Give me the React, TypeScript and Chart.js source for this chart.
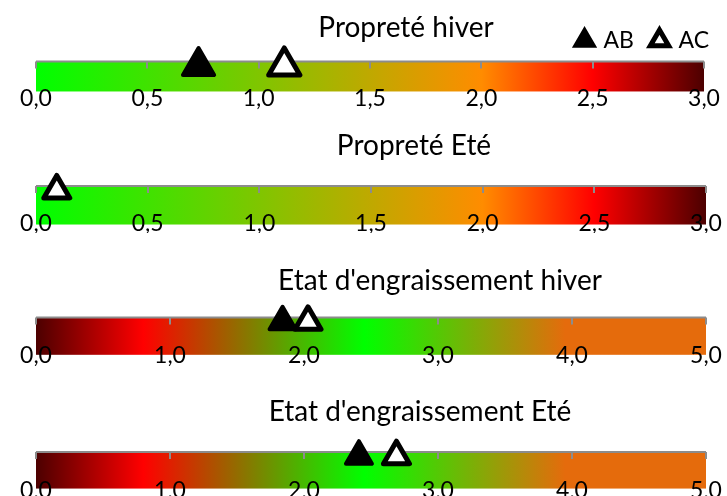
import React, { useEffect, useRef } from 'react';
import { Chart, registerables } from 'chart.js';

Chart.register(...registerables);

// ---------- data ----------
const SERIES_NAMES = ['AB', 'AC'];
const PANEL_TITLES = ['Propreté hiver', 'Propreté Eté', "Etat d'engraissement hiver", "Etat d'engraissement Eté"];
const AXIS_MAX = [3, 3, 5, 5];
const AXIS_STEP = [0.5, 0.5, 1, 1];
const TICKS_PROPRETE = ['0,0', '0,5', '1,0', '1,5', '2,0', '2,5', '3,0'];
const TICKS_ENGRAISSEMENT = ['0,0', '1,0', '2,0', '3,0', '4,0', '5,0'];
const AB_VALUES: (number | null)[] = [0.73, null, 1.84, 2.41];
const AC_VALUES: (number | null)[] = [1.115, 0.093, 2.03, 2.69];
const SCALE_PROPRETE_STOPS = [0, 2, 2.5, 3];
const SCALE_PROPRETE_COLORS = ['#00ff00', '#ff8c00', '#ff0000', '#4c0000'];
const SCALE_ENGR_STOPS = [0, 0.8, 2.45, 3.95, 5];
const SCALE_ENGR_COLORS = ['#4c0000', '#ff0000', '#00ff00', '#e56b0c', '#e56b0c'];
// colour band spans y = 0 .. 1
const BAND_BOTTOM = 0;
const BAND_TOP = 1;

// ---------- layout (styles / positions only) ----------
const FONT = 'Lato, "Noto Sans", sans-serif';
const PANELS = [
  { top: 0, height: 112, padTop: 11, yMin: 0.236, titleX: 406, titleY: 37, radius: 18, markerY: 0.85, legend: true },
  { top: 120, height: 113, padTop: 66, yMin: 0.39, titleX: 414, titleY: 35, radius: 15, markerY: 0.885, legend: false },
  { top: 250, height: 116, padTop: 67.5, yMin: 0.35, titleX: 440, titleY: 40, radius: 15, markerY: 0.885, legend: false },
  { top: 375, height: 126, padTop: 77, yMin: 0.33, titleX: 420, titleY: 46, radius: 15, markerY: 0.885, legend: false },
];

const decorPlugin = {
  id: 'panelDecor',
  beforeDraw(chart: any, _args: any, opts: any) {
    const { ctx, chartArea } = chart;
    const xs = chart.scales.x;
    const ys = chart.scales.y;
    const w = chartArea.right - chartArea.left;
    const g = ctx.createLinearGradient(chartArea.left, 0, chartArea.right, 0);
    opts.stops.forEach((v: number, i: number) => {
      const f = Math.min(1, Math.max(0, (xs.getPixelForValue(v) - chartArea.left) / w));
      g.addColorStop(f, opts.colors[i]);
    });
    const yTop = ys.getPixelForValue(BAND_TOP);
    const yBot = ys.getPixelForValue(BAND_BOTTOM);
    ctx.save();
    ctx.fillStyle = g;
    ctx.fillRect(chartArea.left, yTop, w, yBot - yTop);
    ctx.fillStyle = '#000';
    ctx.font = `28px ${FONT}`;
    ctx.textAlign = 'center';
    ctx.textBaseline = 'alphabetic';
    ctx.fillText(opts.title, opts.titleX, opts.titleY);
    ctx.restore();
  },
  beforeDatasetsDraw(chart: any) {
    const { ctx, chartArea } = chart;
    const xs = chart.scales.x;
    const ys = chart.scales.y;
    const yTop = ys.getPixelForValue(BAND_TOP);
    ctx.save();
    ctx.strokeStyle = '#8c8c8c';
    ctx.lineWidth = 2;
    ctx.beginPath();
    ctx.moveTo(chartArea.left, yTop);
    ctx.lineTo(chartArea.right, yTop);
    xs.ticks.forEach((t: any) => {
      const px = Math.round(xs.getPixelForValue(t.value));
      ctx.moveTo(px, yTop);
      ctx.lineTo(px, yTop + 7);
    });
    ctx.stroke();
    ctx.restore();
    ctx.lineJoin = 'round';
  },
};

function Panel({ index }: { index: number }) {
  const ref = useRef<HTMLCanvasElement>(null);
  const p = PANELS[index];
  useEffect(() => {
    if (!ref.current) return;
    const isProp = index < 2;
    const tickLabels = isProp ? TICKS_PROPRETE : TICKS_ENGRAISSEMENT;
    const chart = new Chart(ref.current, {
      type: 'scatter',
      data: {
        datasets: [
          {
            label: SERIES_NAMES[0],
            data: AB_VALUES[index] == null ? [] : [{ x: AB_VALUES[index] as number, y: p.markerY }],
            pointStyle: 'triangle',
            pointRadius: p.radius,
            pointHoverRadius: p.radius,
            backgroundColor: '#000',
            borderColor: '#000',
            pointBackgroundColor: '#000',
            pointBorderColor: '#000',
            borderWidth: 4,
            pointBorderWidth: 4,
            pointHoverBorderWidth: 4,
            borderJoinStyle: 'round',
            clip: false,
            order: 1,
          } as any,
          {
            label: SERIES_NAMES[1],
            data: AC_VALUES[index] == null ? [] : [{ x: AC_VALUES[index] as number, y: p.markerY }],
            pointStyle: 'triangle',
            pointRadius: p.radius,
            pointHoverRadius: p.radius,
            backgroundColor: '#fff',
            borderColor: '#000',
            pointBackgroundColor: '#fff',
            pointBorderColor: '#000',
            borderWidth: 4,
            pointBorderWidth: 5,
            pointHoverBorderWidth: 5,
            borderJoinStyle: 'round',
            clip: false,
            order: 0,
          } as any,
        ],
      },
      options: {
        animation: false,
        responsive: false,
        events: [],
        layout: { padding: { left: 36, right: 0, top: p.padTop, bottom: 0 } },
        scales: {
          x: {
            type: 'linear',
            position: 'bottom',
            min: 0,
            max: AXIS_MAX[index],
            z: 1,
            grid: { display: false, drawTicks: false },
            border: { display: false },
            ticks: {
              stepSize: AXIS_STEP[index],
              autoSkip: false,
              maxRotation: 0,
              padding: 0,
              color: '#000',
              font: { family: FONT, size: 23 },
              callback: (_v: any, i: number) => tickLabels[i],
            },
          },
          y: {
            type: 'linear',
            position: 'right',
            min: p.yMin,
            max: BAND_TOP,
            ticks: { display: false },
            grid: { display: false, drawTicks: false },
            border: { display: false },
            afterFit: (s: any) => {
              s.width = 21;
            },
          },
        },
        plugins: {
          tooltip: { enabled: false },
          title: { display: false },
          legend: {
            display: p.legend,
            position: 'top',
            align: 'end',
            labels: {
              usePointStyle: true,
              boxHeight: 15,
              boxWidth: 15,
              padding: 18,
              color: '#000',
              font: { family: FONT, size: 23 },
              sort: (a: any, b: any) => a.datasetIndex - b.datasetIndex,
            },
          },
          panelDecor: {
            stops: isProp ? SCALE_PROPRETE_STOPS : SCALE_ENGR_STOPS,
            colors: isProp ? SCALE_PROPRETE_COLORS : SCALE_ENGR_COLORS,
            title: PANEL_TITLES[index],
            titleX: p.titleX,
            titleY: p.titleY,
          },
        } as any,
      },
      plugins: [decorPlugin],
    });
    return () => chart.destroy();
  }, [index]);
  return (
    <div style={{ position: 'absolute', left: 0, top: p.top, width: 727, height: p.height }}>
      <canvas ref={ref} width={727} height={p.height} style={{ display: 'block' }} />
    </div>
  );
}

export default function App() {
  return (
    <div
      style={{
        position: 'fixed',
        left: 0,
        top: 0,
        width: 727,
        height: 496,
        overflow: 'hidden',
        background: '#fff',
      }}
    >
      {PANELS.map((_, i) => (
        <Panel key={i} index={i} />
      ))}
    </div>
  );
}
